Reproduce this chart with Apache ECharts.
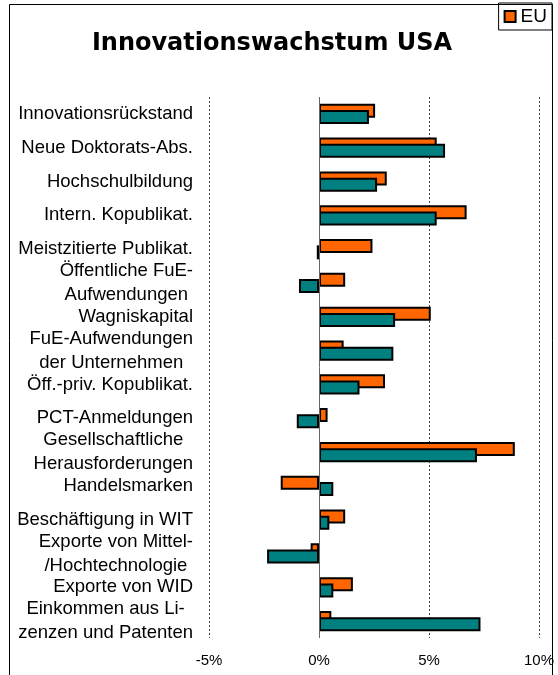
<!DOCTYPE html>
<html>
<head>
    <meta charset="utf-8">
    <title>Innovationswachstum USA</title>
    <script src="https://cdn.jsdelivr.net/npm/echarts@6/dist/echarts.min.js"></script>
</head>
<body style="margin:0">
    <div id="main" style="width: 558px;height:675px;"></div>

    <script type="text/javascript">
        // Kategorien von oben nach unten
        var categories = [
            'Innovationsrückstand', 'Neue Doktorats-Abs.', 'Hochschulbildung', 'Intern. Kopublikat.',
            'Meistzitierte Publikat.', 'Öffentliche FuE-\nAufwendungen', 'Wagniskapital',
            'FuE-Aufwendungen\nder Unternehmen', 'Öff.-priv. Kopublikat.', 'PCT-Anmeldungen',
            'Gesellschaftliche\nHerausforderungen', 'Handelsmarken', 'Beschäftigung in WIT',
            'Exporte von Mittel-\n/Hochtechnologie', 'Exporte von WID', 'Einkommen aus Li-\nzenzen und Patenten'
        ];
        var euValues = [2.55, 5.35, 3.08, 6.71, 2.43, 1.19, 5.08, 1.12, 3.0, 0.39, 8.9, -1.74, 1.19, -0.38, 1.54, 0.56];
        var usaValues = [2.27, 5.73, 2.64, 5.35, -0.1, -0.91, 3.46, 3.38, 1.84, -1.01, 7.18, 0.65, 0.47, -2.36, 0.65, 7.34];
        var xTicks = [-5, 0, 5, 10];

        var myChart = echarts.init(document.getElementById('main'));

        var labelFont = 'Liberation Sans, Arial, sans-serif';

        var option = {
            animation: false,
            backgroundColor: '#fff',
            title: {
                text: 'Innovationswachstum USA',
                left: 267,
                textAlign: 'center',
                top: 27,
                textStyle: {
                    fontFamily: 'DejaVu Sans, Verdana, sans-serif',
                    fontWeight: 'bold',
                    fontSize: 24,
                    color: '#000'
                }
            },
            legend: {
                data: ['EU'],
                right: 6,
                top: 3,
                padding: [4, 5, 4, 5],
                borderColor: '#000',
                borderWidth: 1,
                itemWidth: 11,
                itemHeight: 11,
                itemGap: 4,
                icon: 'rect',
                textStyle: { fontFamily: labelFont, fontSize: 19, color: '#000' }
            },
            graphic: [{
                type: 'rect',
                shape: { x: 9.5, y: 4.5, width: 543, height: 700 },
                style: { fill: null, stroke: '#000', lineWidth: 1 },
                z: -1
            }],
            grid: { left: 209, right: 19, top: 97, bottom: 37 },
            xAxis: {
                type: 'value',
                min: xTicks[0],
                max: xTicks[xTicks.length - 1],
                interval: 5,
                axisLine: { show: false },
                axisTick: { show: false },
                axisLabel: {
                    formatter: '{value}%',
                    fontFamily: labelFont,
                    fontSize: 15,
                    color: '#000',
                    margin: 15
                },
                splitLine: { lineStyle: { type: [2, 2], color: '#444', width: 1 } }
            },
            yAxis: {
                type: 'category',
                inverse: true,
                data: categories,
                axisLine: { show: false },
                axisTick: { show: false },
                axisLabel: {
                    margin: 16,
                    formatter: function (v) {
                        return v.split('\n').map(function (s) { return '{c|' + s + '}'; }).join('\n');
                    },
                    rich: {
                        c: { fontFamily: labelFont, fontSize: 18.5, color: '#000', align: 'center', lineHeight: 24 }
                    }
                }
            },
            series: [{
                name: 'EU',
                type: 'bar',
                data: euValues,
                barWidth: 14,
                barGap: '-55%',
                itemStyle: { color: '#FF6600', borderColor: '#000', borderWidth: 2 }
            }, {
                name: 'USA',
                type: 'bar',
                data: usaValues,
                barWidth: 14,
                barGap: '-55%',
                itemStyle: { color: '#008080', borderColor: '#000', borderWidth: 2 },
                markLine: {
                    silent: true,
                    symbol: 'none',
                    label: { show: false },
                    lineStyle: { type: 'solid', color: '#666', width: 1 },
                    data: [{ xAxis: 0 }]
                }
            }]
        };

        myChart.setOption(option);
    </script>
</body>
</html>
